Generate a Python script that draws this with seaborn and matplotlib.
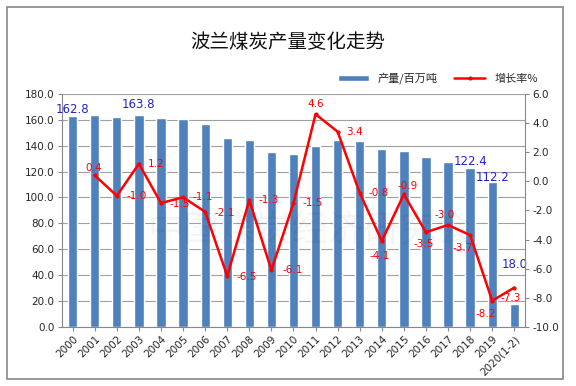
import numpy as np
import pandas as pd
import matplotlib
matplotlib.use('Agg')
import matplotlib.pyplot as plt
import seaborn as sns
from matplotlib.patches import Rectangle

sns.set_style('white')
plt.rcParams['font.family'] = ['DejaVu Sans', 'Noto Sans CJK SC']
plt.rcParams['axes.unicode_minus'] = False

years = ['2000', '2001', '2002', '2003', '2004', '2005', '2006', '2007', '2008', '2009', '2010',
         '2011', '2012', '2013', '2014', '2015', '2016', '2017', '2018', '2019', '2020(1-2)']
output = [162.8, 163.8, 162.3, 163.8, 161.5, 160.2, 156.6, 146.0, 144.3, 135.2, 133.2,
          139.9, 144.1, 143.2, 137.3, 136.2, 131.1, 127.3, 122.4, 112.2, 18.0]
growth = [np.nan, 0.4, -1.0, 1.2, -1.5, -1.1, -2.1, -6.5, -1.3, -6.1, -1.5,
          4.6, 3.4, -0.8, -4.1, -0.9, -3.5, -3.0, -3.7, -8.2, -7.3]
bar_label_years = ['2000', '2003', '2018', '2019', '2020(1-2)']

df = pd.DataFrame({'year': years, 'output': output, 'growth': growth})
df['pos'] = np.arange(len(df))

fig = plt.figure(figsize=(5.76, 3.86), dpi=100)
ax = fig.add_axes([0.107, 0.153, 0.805, 0.604])

sns.barplot(data=df, x='year', y='output', color='#4F81BD', width=0.42,
            saturation=1, ax=ax, label='产量/百万吨')
ax.set_ylim(0, 180)
ax.set_yticks(np.arange(0, 181, 20))
ax.set_yticklabels([f'{v:.1f}' for v in np.arange(0, 181, 20)], fontsize=7.5)
ax.yaxis.grid(True, color='#A0A0A0', lw=0.8)
ax.set_axisbelow(True)
ax.set_xlabel('')
ax.set_ylabel('')
ax.set_xlim(-0.5, len(years) - 0.5)
ax.set_xticks(df['pos'])
ax.set_xticklabels(years, rotation=45, ha='right', rotation_mode='anchor', fontsize=7.5)
for s in ['top', 'right']:
    ax.spines[s].set_visible(False)
for s in ['left', 'bottom']:
    ax.spines[s].set_color('#888888')
ax.tick_params(axis='both', length=3, color='#888888', direction='out', left=True, bottom=True, pad=2)

# watermark
ax.text(0.535, 0.41, '中国煤炭经济研究会', transform=ax.transAxes, ha='center', va='center',
        fontsize=26, color='#000000', alpha=0.045, family=['Noto Sans CJK SC'])

# bar labels (value offset above bar top)
bar_dy = {'2000': 5, '2003': 8, '2018': 5, '2019': 3, '2020(1-2)': 30}
for _, r in df[df['year'].isin(bar_label_years)].iterrows():
    ax.text(r['pos'], r['output'] + bar_dy[r['year']], f"{r['output']:.1f}", color='#2222CC',
            ha='center', va='center', fontsize=8.5)

ax2 = ax.twinx()
sns.lineplot(data=df.dropna(), x='pos', y='growth', color='#FF0000', lw=1.8,
             marker='o', markersize=3, markeredgewidth=0, ax=ax2, label='增长率%')
ax2.set_ylim(-10, 6)
ax2.set_yticks(np.arange(-10, 7, 2))
ax2.set_yticklabels([f'{v:.1f}' for v in np.arange(-10, 7, 2)], fontsize=7.5)
ax2.set_ylabel('')
ax2.set_xlabel('')
ax2.set_xlim(-0.5, len(years) - 0.5)
for s in ['top', 'left', 'bottom']:
    ax2.spines[s].set_visible(False)
ax2.spines['right'].set_color('#888888')
ax2.tick_params(axis='y', length=3, color='#888888', direction='out', right=True, pad=2)

# growth labels: (dx, dy) offsets from each point
offsets = {'2001': (-0.05, 0.5), '2002': (0.9, 0.0), '2003': (0.8, 0.0), '2004': (0.84, -0.05),
           '2005': (0.88, 0.0), '2006': (0.88, -0.1), '2007': (0.9, -0.1), '2008': (0.87, 0.0),
           '2009': (0.95, 0.0), '2010': (0.86, 0.0), '2011': (0.0, 0.7), '2012': (0.76, 0.0),
           '2013': (0.84, 0.0), '2014': (-0.1, -1.0), '2015': (0.15, 0.55), '2016': (-0.1, -0.8),
           '2017': (-0.17, 0.65), '2018': (-0.35, -0.9), '2019': (-0.3, -0.9),
           '2020(1-2)': (-0.14, -0.7)}
for _, r in df.dropna().iterrows():
    dx, dy = offsets[r['year']]
    ax2.text(r['pos'] + dx, r['growth'] + dy, f"{r['growth']:.1f}", color='#FF0000',
             ha='center', va='center', fontsize=7.5)

# legend
h1, l1 = ax.get_legend_handles_labels()
h2, l2 = ax2.get_legend_handles_labels()
if ax2.get_legend():
    ax2.get_legend().remove()
if ax.get_legend():
    ax.get_legend().remove()
fig.legend(h1 + h2, l1 + l2, loc='center', bbox_to_anchor=(0.76, 0.797), ncol=2,
           frameon=False, handlelength=2.8, handleheight=0.5, columnspacing=1.5,
           prop={'family': ['Noto Sans CJK SC'], 'size': 8})

fig.text(0.5, 0.89, '波兰煤炭产量变化走势', ha='center', va='center', fontsize=14,
         family=['Noto Sans CJK SC'], color='#111111')

fig.patches.append(Rectangle((0.012, 0.018), 0.965, 0.965, transform=fig.transFigure,
                             fill=False, edgecolor='#888888', lw=1.2))

fig.savefig('out.png', dpi=100, facecolor='white')
